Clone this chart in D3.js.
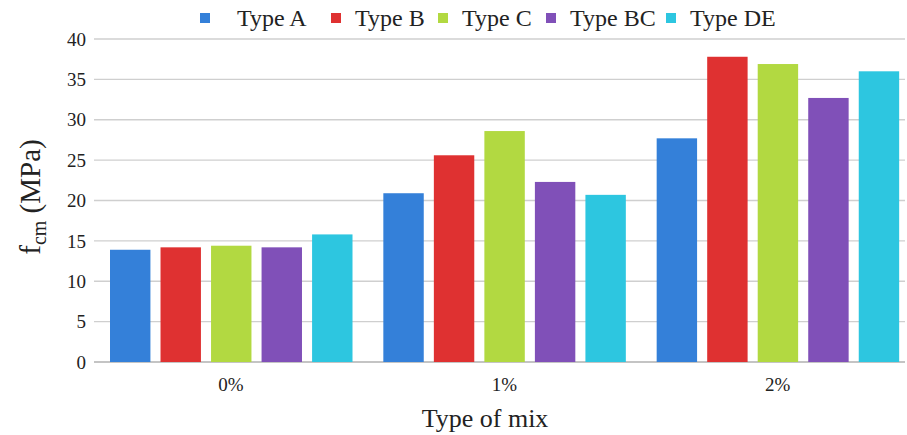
<!DOCTYPE html>
<html>
<head>
<meta charset="utf-8">
<script src="https://cdn.jsdelivr.net/npm/d3@7"></script>
<style>
  body { margin: 0; background: #fff; }
  svg { display: block; }
</style>
</head>
<body>
<svg id="chart" width="907" height="435" font-family="'Liberation Serif', 'Times New Roman', Times, serif"></svg>
<script>
const categories = ["0%", "1%", "2%"];
const seriesNames = ["Type A", "Type B", "Type C", "Type BC", "Type DE"];
const typeA  = [13.9, 20.9, 27.7];
const typeB  = [14.2, 25.6, 37.8];
const typeC  = [14.4, 28.6, 36.9];
const typeBC = [14.2, 22.3, 32.7];
const typeDE = [15.8, 20.7, 36.0];
const yTicks = [0, 5, 10, 15, 20, 25, 30, 35, 40];
const colors = ["#3480d9", "#df3131", "#b2d941", "#8050b8", "#2dc6e0"];

const series = [typeA, typeB, typeC, typeBC, typeDE];
const FONT = "Liberation Serif";

const svg = d3.select("#chart");
const mLeft = 94, mRight = 914, mTop = 39, mBottom = 362;

const x0 = d3.scaleBand().domain(categories).range([mLeft, mRight]).padding(0);
const x1 = d3.scaleBand().domain(seriesNames).range([16, 258.5]).paddingInner(0.2).paddingOuter(0);
const y = d3.scaleLinear().domain([0, 40]).range([mBottom, mTop]);

// gridlines
svg.append("g").selectAll("line").data(yTicks).join("line")
  .attr("x1", mLeft).attr("x2", 905)
  .attr("y1", d => y(d)).attr("y2", d => y(d))
  .attr("stroke", d => d === 0 ? "#b0b0b0" : "#cfcfcf").attr("stroke-width", 1.3);

// y tick labels
svg.append("g").selectAll("text").data(yTicks).join("text")
  .attr("x", 86).attr("y", d => y(d)).attr("dy", "0.35em")
  .attr("font-family", FONT).attr("fill", "#222")
  .attr("text-anchor", "end").attr("font-size", 19).text(d => d);

// bars
const g = svg.append("g");
categories.forEach((c, ci) => {
  g.append("g").attr("transform", `translate(${x0(c)},0)`)
    .selectAll("rect").data(seriesNames.map((s, si) => ({s, v: series[si][ci], i: si}))).join("rect")
    .attr("x", d => x1(d.s)).attr("width", x1.bandwidth())
    .attr("y", d => y(d.v)).attr("height", d => y(0) - y(d.v))
    .attr("fill", d => colors[d.i]);
});

// x tick labels
svg.append("g").selectAll("text").data(categories).join("text")
  .attr("x", d => x0(d) + 137).attr("y", 391)
  .attr("font-family", FONT).attr("fill", "#222")
  .attr("text-anchor", "middle").attr("font-size", 19).text(d => d);

// x title
svg.append("text").attr("x", 485).attr("y", 427).attr("text-anchor", "middle")
  .attr("font-family", FONT).attr("fill", "#222")
  .attr("font-size", 26).text("Type of mix");

// y title
const yt = svg.append("text").attr("transform", "translate(40,197) rotate(-90)")
  .attr("font-family", FONT).attr("fill", "#222")
  .attr("text-anchor", "middle").attr("font-size", 29);
yt.append("tspan").text("f");
yt.append("tspan").attr("font-size", 20).attr("dy", 6).text("cm");
yt.append("tspan").attr("dy", -6).text(" (MPa)");

// legend
const legendX = [200, 331, 438, 546, 666];
const lg = svg.append("g").selectAll("g").data(seriesNames).join("g")
  .attr("transform", (d, i) => `translate(${legendX[i]},0)`);
lg.append("rect").attr("x", 0).attr("y", 13).attr("width", 10).attr("height", 10)
  .attr("fill", (d, i) => colors[i]);
lg.append("text").attr("x", (d, i) => i === 0 ? 37 : 24).attr("y", 26)
  .attr("font-family", FONT).attr("fill", "#222")
  .attr("font-size", 24).text(d => d);
</script>
</body>
</html>
